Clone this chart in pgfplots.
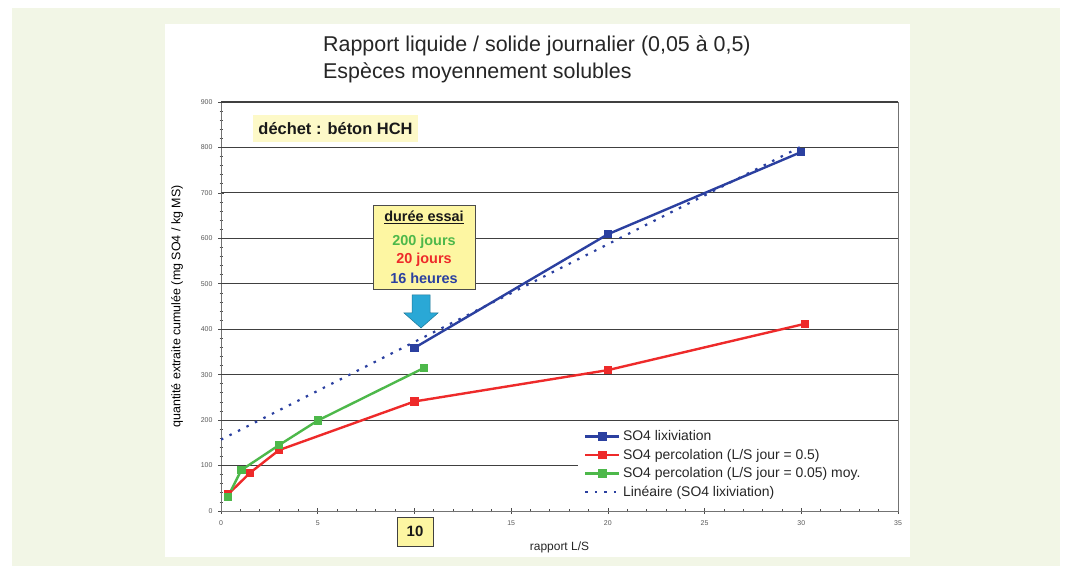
\documentclass[border=0pt]{standalone}
\usepackage{pgfplots}
\pgfplotsset{compat=1.18}
\usepackage{fontspec}
\setmainfont{Liberation Sans}
\definecolor{bgout}{HTML}{F2F6E6}
\definecolor{cblue}{HTML}{2B40A0}
\definecolor{cred}{HTML}{EE2A2A}
\definecolor{cgreen}{HTML}{4DB84A}
\definecolor{lyellow}{HTML}{FDF9C8}
\definecolor{byellow}{HTML}{FDF6A2}
\definecolor{arrowc}{HTML}{2AA8D6}
\begin{document}
\begin{tikzpicture}[x=1bp,y=1bp]
\fill[white] (0,0) rectangle (1065,570);
\fill[bgout] (12,4) rectangle (1060,562);
\fill[white] (165,13) rectangle (910,546);
\begin{axis}[
  at={(221bp,59bp)}, anchor=south west, scale only axis,
  width=677bp, height=409bp,
  xmin=0, xmax=35, ymin=0, ymax=900,
  xtick={0,5,...,35}, ytick={0,100,...,900},
  minor x tick num=4, minor y tick num=4,
  xtick pos=left, ytick pos=left,
  tick align=center,
  major tick length=6bp, minor tick length=3bp,
  every tick/.style={black!70, line width=0.7pt},
  axis line style={black!55, line width=0.8pt},
  /pgf/number format/assume math mode=true,
  ticklabel style={font=\fontsize{7}{8}\selectfont, text=black!65},
  yticklabel style={xshift=-2bp},
  xticklabel style={yshift=-3bp},
  every axis y label/.style={at={(axis description cs:-0.065,0.5)}, rotate=90, anchor=center, font=\fontsize{12.5}{14}\selectfont, text=black},
  every axis x label/.style={at={(axis description cs:0.5,-0.088)}, anchor=center, font=\fontsize{12}{14}\selectfont, text=black!85},
  ylabel={quantité extraite cumulée (mg SO4 / kg MS)},
  xlabel={rapport L/S},
  legend style={at={(axis description cs:0.5332,0.2041)}, anchor=north west,
    draw=none, fill=white, font=\fontsize{14}{16}\selectfont,
    inner sep=2bp, row sep=4.8bp,
    nodes={inner xsep=2.5bp, inner ysep=1bp, text=black!85}},
  legend cell align=left,
  legend image code/.code={\draw[mark repeat=2,mark phase=2] plot coordinates {(0bp,0bp) (17bp,0bp) (34bp,0bp)};},
]
% horizontal grid lines (the 100 line stops at the legend box)
\draw[black!75, line width=1.1pt] (axis cs:0,100) -- (axis cs:18.46,100);
\pgfplotsinvokeforeach{200,300,...,900}{
  \draw[black!75, line width=1.1pt] (axis cs:0,#1) -- (axis cs:35,#1);
}
\addplot[cblue, line width=2.4pt, mark=square*, mark size=3bp] coordinates {(10,359) (20,609) (30,790)};
\addlegendentry{SO4 lixiviation}
\addplot[cred, line width=2.4pt, mark=square*, mark size=3bp] coordinates {(0.35,36) (1.5,84) (3,134) (10,241) (20,310) (30.2,412)};
\addlegendentry{SO4 percolation (L/S jour = 0.5)}
\addplot[cgreen, line width=2.4pt, mark=square*, mark size=3bp] coordinates {(0.35,31) (1.05,90) (3,145) (5,199) (10.5,315)};
\addlegendentry{SO4 percolation (L/S jour = 0.05) moy.}
\addplot[cblue, line width=2.2pt, dash pattern=on 2.5bp off 7bp] coordinates {(0,157) (30,802)};
\addlegendentry{Linéaire (SO4 lixiviation)}
\end{axis}
% titles
\node[anchor=base west, font=\fontsize{21.5}{24}\selectfont, text=black!85, inner sep=0] at (323,570-52) {Rapport liquide / solide journalier (0,05 à 0,5)};
\node[anchor=base west, font=\fontsize{21.5}{24}\selectfont, text=black!85, inner sep=0] at (323,570-79) {Espèces moyennement solubles};
% dechet box
\node[fill=lyellow, minimum width=165bp, minimum height=27bp, inner sep=0, font=\bfseries\fontsize{16.5}{18}\selectfont, text=black!90] at (335.5,570-128.5) {déchet : béton HCH};
% duree essai box
\draw[black!70, line width=0.8pt, fill=byellow] (373,570-205) rectangle (475,570-289);
\node[font=\bfseries\fontsize{14.5}{16}\selectfont, text=black!90] at (424,570-217) {\underline{durée essai}};
\node[font=\bfseries\fontsize{14.5}{16}\selectfont, text=cgreen] at (424,570-242) {200 jours};
\node[font=\bfseries\fontsize{14.5}{16}\selectfont, text=cred] at (424,570-260) {20 jours};
\node[font=\bfseries\fontsize{14.5}{16}\selectfont, text=cblue] at (424,570-278) {16 heures};
% arrow
\fill[arrowc, draw=arrowc!70!black, line width=0.5pt] (412,570-295) -- (430,570-295) -- (430,570-313) -- (438,570-313) -- (421,570-328) -- (404,570-313) -- (412,570-313) -- cycle;
% 10 box
\draw[black!75, line width=0.9pt, fill=byellow] (397,570-517) rectangle (433,570-546);
\node[font=\bfseries\fontsize{15}{17}\selectfont, text=black!90] at (415,570-531.5) {10};
\end{tikzpicture}
\end{document}
